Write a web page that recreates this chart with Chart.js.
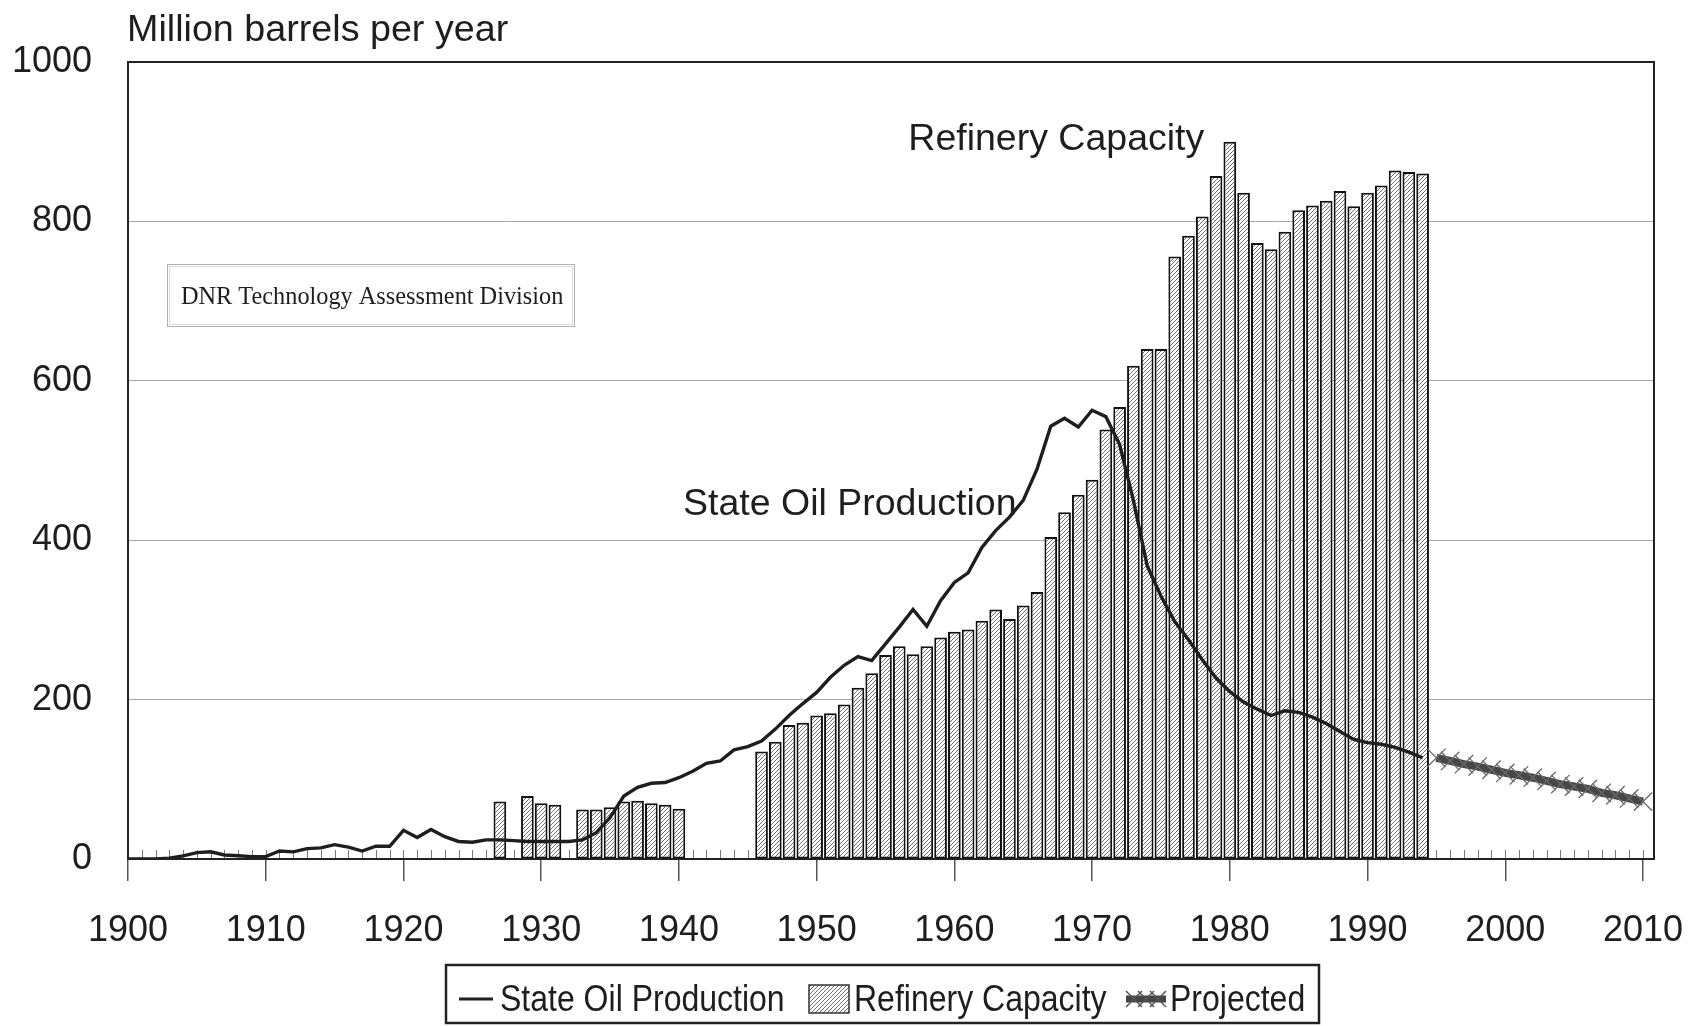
<!DOCTYPE html>
<html lang="en">
<head>
<meta charset="UTF-8">
<title>Million barrels per year</title>
<script src="https://cdn.jsdelivr.net/npm/chart.js"></script>
<style>
  html, body { margin: 0; padding: 0; background: #fff; }
  #wrap { width: 1695px; height: 1026px; }
</style>
</head>
<body>
<div id="wrap"><canvas id="grafico" width="1695" height="1026"></canvas></div>
<script>
  // values (million barrels per year)
  const productionYears = [1900, 1901, 1902, 1903, 1904, 1905, 1906, 1907, 1908, 1909,
    1910, 1911, 1912, 1913, 1914, 1915, 1916, 1917, 1918, 1919,
    1920, 1921, 1922, 1923, 1924, 1925, 1926, 1927, 1928, 1929,
    1930, 1931, 1932, 1933, 1934, 1935, 1936, 1937, 1938, 1939,
    1940, 1941, 1942, 1943, 1944, 1945, 1946, 1947, 1948, 1949,
    1950, 1951, 1952, 1953, 1954, 1955, 1956, 1957, 1958, 1959,
    1960, 1961, 1962, 1963, 1964, 1965, 1966, 1967, 1968, 1969,
    1970, 1971, 1972, 1973, 1974, 1975, 1976, 1977, 1978, 1979,
    1980, 1981, 1982, 1983, 1984, 1985, 1986, 1987, 1988, 1989,
    1990, 1991, 1992, 1993, 1994];
  const production = [0, 0, 0, 1, 4, 8, 9, 5, 4, 3,
    3, 10, 9, 13, 14, 18, 15, 10, 16, 16,
    36, 27, 37, 28, 22, 21, 24, 24, 23, 22,
    22, 22, 22, 24, 33, 52, 79, 90, 95, 96,
    102, 110, 120, 123, 137, 141, 148, 163, 180, 195,
    209, 228, 243, 254, 249, 270, 291, 313, 292, 324,
    347, 359, 391, 412, 429, 450, 489, 543, 553, 542,
    563, 555, 520, 450, 368, 330, 298, 275, 250, 227,
    210, 197, 188, 180, 186, 184, 178, 170, 160, 150,
    146, 144, 140, 134, 127];

  const refineryYears = [1927, 1929, 1930, 1931, 1933, 1934, 1935, 1936, 1937, 1938, 1939, 1940,
    1946, 1947, 1948, 1949, 1950, 1951, 1952, 1953, 1954, 1955, 1956, 1957, 1958, 1959,
    1960, 1961, 1962, 1963, 1964, 1965, 1966, 1967, 1968, 1969,
    1970, 1971, 1972, 1973, 1974, 1975, 1976, 1977, 1978, 1979,
    1980, 1981, 1982, 1983, 1984, 1985, 1986, 1987, 1988, 1989,
    1990, 1991, 1992, 1993, 1994];
  const refinery = [72, 79, 70, 68, 62, 62, 65, 72, 73, 70, 68, 63,
    135, 147, 168, 171, 180, 183, 194, 215, 233, 256, 267, 257, 267, 278,
    285, 288, 299, 313, 301, 318, 335, 404, 435, 457,
    476, 539, 567, 619, 640, 640, 756, 782, 806, 857,
    900, 836, 773, 765, 787, 814, 820, 826, 838, 819,
    836, 845, 864, 862, 860];

  const projectedYears = [1995, 1996, 1997, 1998, 1999, 2000, 2001, 2002,
    2003, 2004, 2005, 2006, 2007, 2008, 2009, 2010];
  const projected = [127, 123, 119, 116, 112, 108, 105, 102, 98, 94, 91, 88, 83, 80, 76, 72];

  const yTicks = [0, 200, 400, 600, 800, 1000];

  const FONTE = '"Liberation Sans", Arial, Helvetica, sans-serif';

  // diagonal hatch used by the refinery bars
  function criarHachura() {
    const c = document.createElement('canvas');
    c.width = 4; c.height = 4;
    const g = c.getContext('2d');
    g.fillStyle = '#fff';
    g.fillRect(0, 0, 4, 4);
    g.strokeStyle = '#707070';
    g.lineWidth = 1;
    g.beginPath();
    g.moveTo(0, 4); g.lineTo(4, 0);
    g.moveTo(-1, 1); g.lineTo(1, -1);
    g.moveTo(3, 5); g.lineTo(5, 3);
    g.stroke();
    return g.createPattern(c, 'repeat');
  }

  const ctxGrafico = document.getElementById('grafico').getContext('2d');
  const hachura = criarHachura();

  function texto(ctx, s, x, y, size, align, sx, family) {
    ctx.save();
    ctx.font = size + 'px ' + (family || FONTE);
    ctx.fillStyle = '#1e1e1e';
    ctx.textBaseline = 'middle';
    ctx.textAlign = align;
    ctx.translate(x, y);
    ctx.scale(sx, 1);
    ctx.fillText(s, 0, 0);
    ctx.restore();
  }

  function cruz(ctx, x, y, r) {
    ctx.beginPath();
    ctx.moveTo(x - r, y - r); ctx.lineTo(x + r, y + r);
    ctx.moveTo(x - r, y + r); ctx.lineTo(x + r, y - r);
    ctx.stroke();
  }

  const decoracoes = {
    id: 'decoracoes',
    beforeDatasetsDraw(chart) {
      // small yearly ticks inside the plot
      const { ctx, chartArea: a, scales: { x } } = chart;
      ctx.save();
      ctx.strokeStyle = '#777';
      ctx.lineWidth = 1;
      for (let ano = 1901; ano <= 2010; ano++) {
        const px = Math.round(x.getPixelForValue(ano)) + 0.5;
        ctx.beginPath();
        ctx.moveTo(px, a.bottom);
        ctx.lineTo(px, a.bottom - 9);
        ctx.stroke();
      }
      ctx.restore();
    },
    afterDatasetsDraw(chart) {
      const { ctx, chartArea: a } = chart;
      ctx.save();
      ctx.strokeStyle = '#222';
      ctx.lineWidth = 2;
      ctx.strokeRect(a.left, a.top, a.right - a.left, a.bottom - a.top);
      ctx.restore();
    },
    afterDraw(chart) {
      const { ctx, scales: { x, y } } = chart;

      texto(ctx, 'Million barrels per year', 127, 31, 37.7, 'left', 1);
      texto(ctx, 'Refinery Capacity', x.getPixelForValue(1967.4), y.getPixelForValue(903), 37.5, 'center', 1);
      texto(ctx, 'State Oil Production', x.getPixelForValue(1940.3), y.getPixelForValue(445), 37.5, 'left', 1);

      // source box
      ctx.save();
      ctx.strokeStyle = '#b0b0b0';
      ctx.lineWidth = 1;
      ctx.strokeRect(167.5, 264.5, 407, 62);
      ctx.strokeStyle = '#dcdcdc';
      ctx.strokeRect(169.5, 266.5, 403, 58);
      ctx.restore();
      texto(ctx, 'DNR Technology Assessment Division', 181, 298, 24.3, 'left', 1, '"Liberation Serif", "Times New Roman", serif');

      // legend
      ctx.save();
      ctx.strokeStyle = '#222';
      ctx.lineWidth = 2.5;
      ctx.strokeRect(446, 965, 873, 58);

      ctx.strokeStyle = '#1e1e1e';
      ctx.lineWidth = 3;
      ctx.beginPath(); ctx.moveTo(459, 999); ctx.lineTo(493, 999); ctx.stroke();

      ctx.fillStyle = hachura;
      ctx.fillRect(809, 985, 40, 28);
      ctx.strokeStyle = '#333';
      ctx.lineWidth = 1.5;
      ctx.strokeRect(809, 985, 40, 28);

      ctx.strokeStyle = '#444';
      ctx.lineWidth = 7;
      ctx.beginPath(); ctx.moveTo(1126, 999); ctx.lineTo(1166, 999); ctx.stroke();
      ctx.lineWidth = 1.5;
      ctx.strokeStyle = '#555';
      [1134, 1146, 1158].forEach(function (cx) { cruz(ctx, cx, 999, 8); });
      ctx.restore();

      texto(ctx, 'State Oil Production', 500, 1001, 37, 'left', 0.865);
      texto(ctx, 'Refinery Capacity', 854, 1001, 37, 'left', 0.865);
      texto(ctx, 'Projected', 1170, 1001, 37, 'left', 0.865);
    }
  };

  const dados = {
    datasets: [
      {
        type: 'line',
        label: 'State Oil Production',
        data: productionYears.map(function (ano, i) { return { x: ano, y: production[i] }; }),
        borderColor: '#1e1e1e',
        borderWidth: 3.4,
        pointRadius: 0,
        tension: 0,
        order: 0
      },
      {
        type: 'line',
        label: 'Projected',
        data: projectedYears.map(function (ano, i) { return { x: ano, y: projected[i] }; }),
        borderColor: '#474747',
        borderWidth: 8,
        pointStyle: 'crossRot',
        pointRadius: 13,
        pointBorderWidth: 1.3,
        pointBorderColor: '#6a6a6a',
        tension: 0,
        order: 0
      },
      {
        type: 'bar',
        label: 'Refinery Capacity',
        data: refineryYears.map(function (ano, i) { return { x: ano, y: refinery[i] }; }),
        backgroundColor: hachura,
        borderColor: '#111',
        borderWidth: 2,
        borderSkipped: false,
        barPercentage: 0.92,
        categoryPercentage: 1,
        order: 2
      }
    ]
  };

  const options = {
    responsive: false,
    animation: false,
    devicePixelRatio: 1,
    layout: { padding: { top: 62, right: 41, bottom: 0, left: 0 } },
    plugins: { legend: { display: false }, tooltip: { enabled: false } },
    scales: {
      x: {
        type: 'linear',
        min: 1900,
        max: 2010.8,
        offset: false,
        afterFit: function (scale) {
          scale.height = 167;
          scale.paddingLeft = 0;
          scale.paddingRight = 0;
        },
        grid: { offset: false, drawOnChartArea: false, drawTicks: true, tickLength: 22, tickColor: '#555', lineWidth: 1.5 },
        border: { display: false },
        ticks: {
          stepSize: 10,
          includeBounds: false,
          autoSkip: false,
          maxRotation: 0,
          padding: 28,
          color: '#1e1e1e',
          font: { family: FONTE, size: 36 },
          callback: function (v) { return String(v); }
        }
      },
      y: {
        min: 0,
        max: 1000,
        afterFit: function (scale) {
          scale.width = 128;
          scale.paddingTop = 0;
          scale.paddingBottom = 0;
        },
        afterBuildTicks: function (scale) { scale.ticks = yTicks.map(function (v) { return { value: v }; }); },
        grid: { color: '#a8a8a8', lineWidth: 1, drawTicks: false },
        border: { display: false },
        ticks: {
          padding: 36,
          color: '#1e1e1e',
          font: { family: FONTE, size: 36 },
          callback: function (v) { return String(v); }
        }
      }
    }
  };

  new Chart(ctxGrafico, { type: 'bar', data: dados, options: options, plugins: [decoracoes] });
</script>
</body>
</html>
